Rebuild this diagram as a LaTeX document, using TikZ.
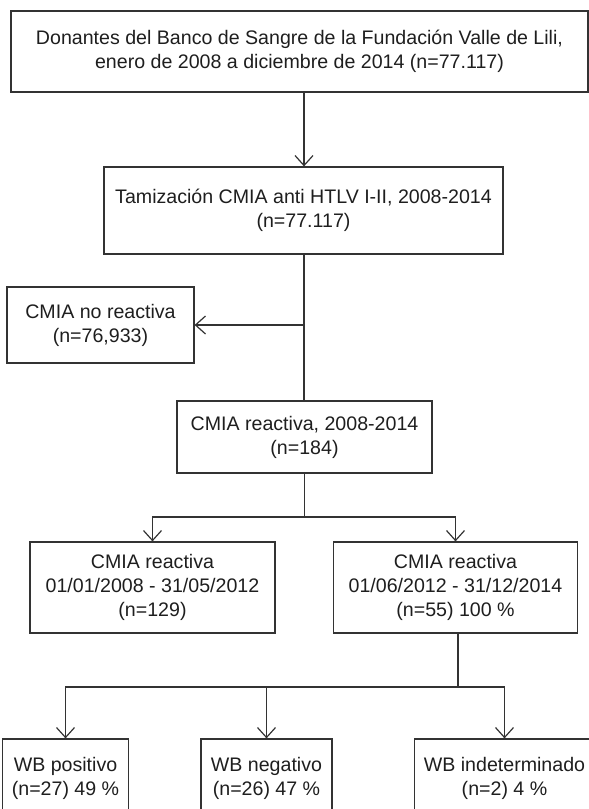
\documentclass[tikz,border=0pt]{standalone}
\usepackage{fontspec}
\setmainfont{Liberation Sans}
\usetikzlibrary{arrows.meta}
\definecolor{linec}{HTML}{333333}
\definecolor{textc}{HTML}{1E1E1E}
\tikzset{
  box/.style={draw=linec, line width=1.2pt, inner sep=0pt, align=center,
    text=textc, font=\fontsize{19.6}{24}\selectfont},
  conn/.style={draw=linec, line width=1.2pt},
  arr/.style={conn, -{Straight Barb[length=10pt,width=18pt]}}
}
\begin{document}
\begin{tikzpicture}[x=1pt,y=-1pt]
\useasboundingbox (0,0) rectangle (589,809);
\clip (0,0) rectangle (589,809);
\node[box, minimum width=577pt, minimum height=81pt] (b1) at (299.5,51.5)
  {Donantes del Banco de Sangre de la Fundación Valle de Lili,\\enero de 2008 a diciembre de 2014 (n=77.117)};
\node[box, minimum width=399pt, minimum height=87pt] (b2) at (303.5,210.5)
  {Tamización CMIA anti HTLV I-II, 2008-2014\\(n=77.117)};
\node[box, minimum width=187pt, minimum height=76pt] (nr) at (100.5,325)
  {CMIA no reactiva\\(n=76,933)};
\node[box, minimum width=255pt, minimum height=72pt] (b3) at (304.5,437)
  {CMIA reactiva, 2008-2014\\(n=184)};
\node[box, minimum width=245pt, minimum height=91pt] (b4l) at (152.5,587.5)
  {CMIA reactiva\\01/01/2008 - 31/05/2012\\(n=129)};
\node[box, minimum width=244pt, minimum height=91pt] (b4r) at (455.5,587.5)
  {CMIA reactiva\\01/06/2012 - 31/12/2014\\(n=55) 100 \%};
\node[box, minimum width=126pt, minimum height=78pt] (wp) at (65.5,778)
  {WB positivo\\(n=27) 49 \%};
\node[box, minimum width=131pt, minimum height=78pt] (wn) at (266.5,778)
  {WB negativo\\(n=26) 47 \%};
\node[box, minimum width=180pt, minimum height=78pt] (wi) at (504.5,778)
  {WB indeterminado\\(n=2) 4 \%};
\coordinate (s1) at (304,0);
\coordinate (s4) at (458,0);
\coordinate (j3) at (0,517);
\coordinate (j4) at (0,687);
\draw[arr] (b1.south -| s1) -- (b2.north -| s1);
\draw[conn] (b2.south -| s1) -- (b3.north -| s1);
\draw[arr] (nr.east -| s1) -- (nr.east);
\draw[conn] (b3.south) -- (b3.south |- j3);
\draw[arr] (b3.south |- j3) -| (b4l.north);
\draw[arr] (b3.south |- j3) -| (b4r.north);
\draw[conn] (b4r.south -| s4) -- (s4 |- j4);
\draw[arr] (s4 |- j4) -| (wp.north);
\draw[arr] (s4 |- j4) -| (wi.north);
\draw[arr] (wn.north |- j4) -- (wn.north);
\end{tikzpicture}
\end{document}
